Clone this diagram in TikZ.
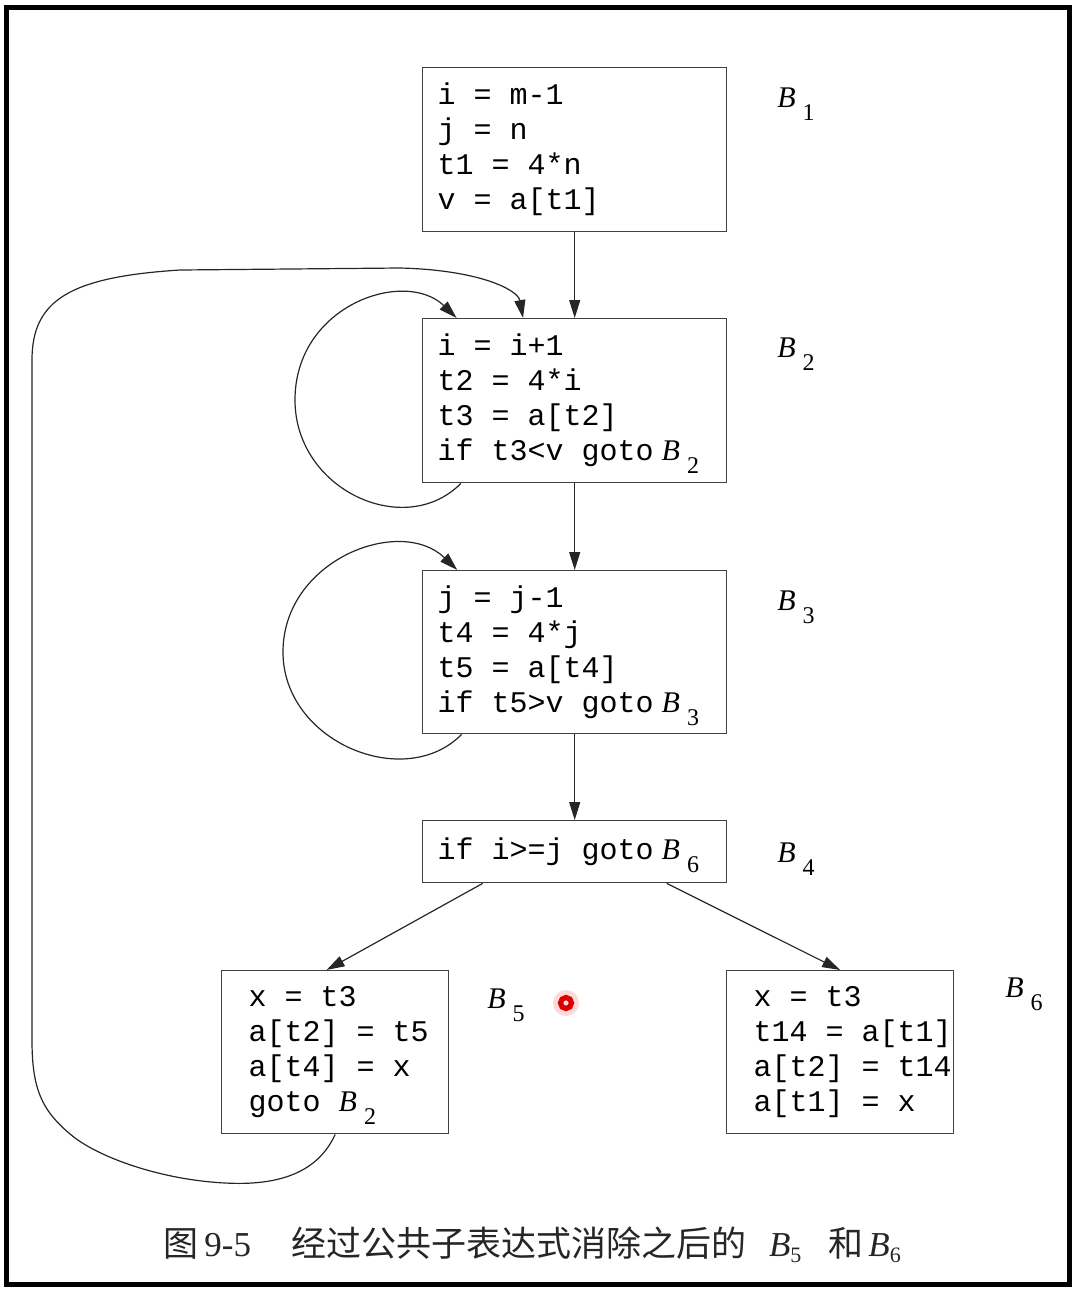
\documentclass[tikz,border=0pt]{standalone}
\usepackage{fontspec}
\setmainfont{Liberation Serif}
\setmonofont{Liberation Mono}
\newfontfamily\cjk{Noto Sans CJK SC}
\usetikzlibrary{arrows.meta,positioning}
\newcommand{\blkname}[1]{{\rmfamily\itshape B}\hspace{3.5pt}\raisebox{-6.5pt}[0pt][0pt]{\rmfamily\fontsize{12pt}{12pt}\selectfont #1}}

\begin{document}
\begin{tikzpicture}[x=0.5pt,y=-0.5pt,
  blockbox/.style={draw=black!75, line width=0.7pt, anchor=north west, align=flush left,
    font=\fontsize{15pt}{17.5pt}\selectfont\ttfamily, inner ysep=0pt},
  widebox/.style={blockbox, inner xsep=7.5pt, text width=137pt},
  narrowbox/.style={blockbox, inner xsep=13.5pt, text width=86.5pt, minimum height=81.5pt},
  flow/.style={draw=black!85, line width=0.6pt, -{Triangle[length=9pt,width=5.5pt]}},
  blklabel/.style={anchor=base west, inner sep=0pt, font=\fontsize{15pt}{17.5pt}\selectfont}]
\useasboundingbox (0,0) rectangle (1074,1292);
\draw[line width=2.5pt] (6.5,7) rectangle (1069.5,1284.5);

% blocks
\node[widebox, minimum height=82pt] (b1) at (422,67) {i~=~m-1\\ j~=~n\\ t1~=~4*n\\ v~=~a[t1]};
\node[widebox, minimum height=82pt] (b2) at (422,318) {i~=~i+1\\ t2~=~4*i\\ t3~=~a[t2]\\ if~t3<v~goto\hspace{4pt}\blkname{2}};
\node[widebox, minimum height=81.5pt] (b3) at (422,570) {j~=~j-1\\ t4~=~4*j\\ t5~=~a[t4]\\ if~t5>v~goto\hspace{4pt}\blkname{3}};
\node[widebox, minimum height=31pt] (b4) at (422,820) {if~i>=j~goto\hspace{4pt}\blkname{6}};
\node[narrowbox] (b5) at (221,970) {x~=~t3\\ a[t2]~=~t5\\ a[t4]~=~x\\ goto~\blkname{2}};
\node[narrowbox] (b6) at (726,970) {x~=~t3\\ t14~=~a[t1]\\ a[t2]~=~t14\\ a[t1]~=~x};

% block names
\node[blklabel] (l1) at (777,107) {\blkname{1}};
\node[blklabel] (l2) at (777,357) {\blkname{2}};
\node[blklabel] (l3) at (777,610) {\blkname{3}};
\node[blklabel] (l4) at (777,862) {\blkname{4}};
\node[blklabel] (l5) at (487,1008) {\blkname{5}};
\node[blklabel] (l6) at (1005,997) {\blkname{6}};

% edges
\draw[flow] (b1) -- (b2);
\draw[flow] (b2) -- (b3);
\draw[flow] (b3) -- (b4);
\draw[flow] (b4.199.6) -- (b5.96);
\draw[flow] (b4.-19.2) -- (b6.north);
\draw[flow] (b2.216) .. controls (405,540) and (295,490) .. (295,400)
  .. controls (295,305) and (405,268) .. (b2.145);
\draw[flow] (b3.216) .. controls (405,792) and (283,742) .. (283,652)
  .. controls (283,560) and (400,515) .. (b3.145);
\draw[flow] (b5.south) .. controls (318,1172) and (280,1186) .. (225,1183)
  .. controls (165,1180) and (105,1160) .. (75,1138)
  .. controls (42,1112) and (32,1090) .. (32,1040)
  -- (32,360)
  .. controls (32,300) and (70,277) .. (180,270)
  -- (400,268)
  .. controls (480,270) and (518,290) .. (b2.122);

% pointer mark
\fill[red!25, opacity=0.6] (566,1003) circle (13);
\draw[red!85!black, line width=2.6pt] (566,1003) circle (5.5);

% caption
\node[anchor=base west, inner sep=0pt, text=black!85, font=\fontsize{17.5pt}{20pt}\selectfont] (cap) at (163,1256)
  {{\cjk 图}\hspace{3pt}9-5\hspace{20pt}{\cjk 经过公共子表达式消除之后的}\hspace{11.5pt}{\itshape B}\raisebox{-3pt}{\fontsize{11pt}{11pt}\selectfont 5}\hspace{13.5pt}{\cjk 和}\hspace{2.5pt}{\itshape B}\raisebox{-3pt}{\fontsize{11pt}{11pt}\selectfont 6}};
\end{tikzpicture}
\end{document}
